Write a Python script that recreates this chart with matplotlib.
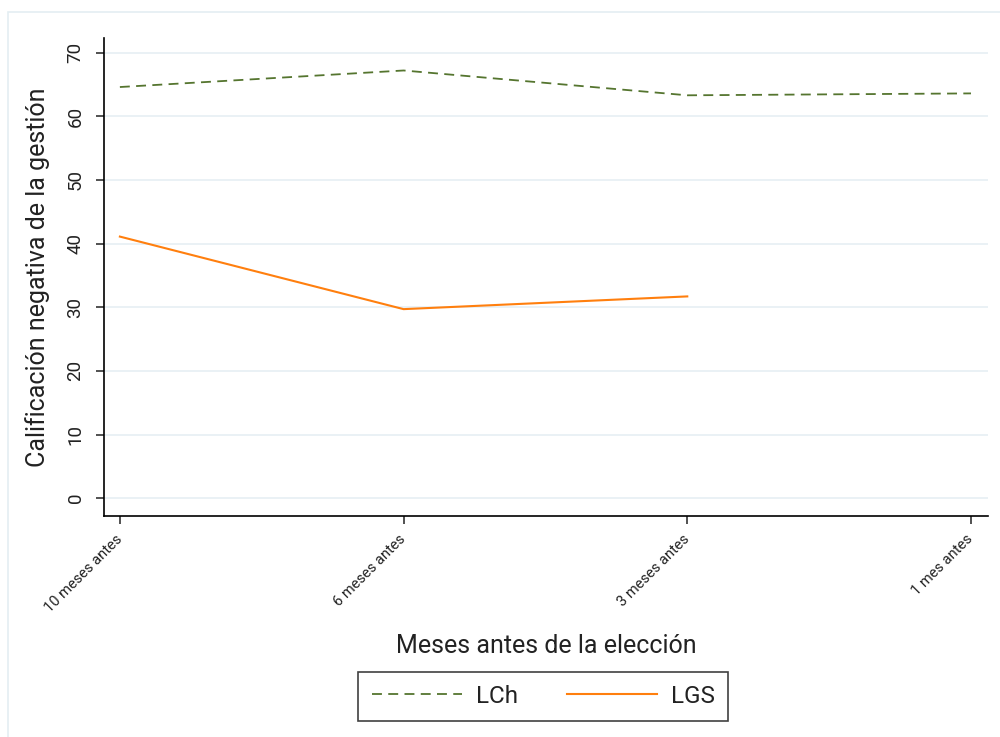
import matplotlib
import matplotlib.pyplot as plt
from matplotlib.patches import Rectangle

matplotlib.use("Agg")

plt.rcParams["font.family"] = ["Roboto", "DejaVu Sans"]

periods = ["10 meses antes", "6 meses antes", "3 meses antes", "1 mes antes"]
lch = [64.6, 67.2, 63.3, 63.6]
lgs = [41.1, 29.7, 31.7]
yticks = [0, 10, 20, 30, 40, 50, 60, 70]

GRID = "#e8f0f4"
INK = "#222222"


def makePlot(filepath):
    fig = plt.figure(figsize=(10, 7.37), dpi=100)
    fig.patches.append(
        Rectangle((0.008, -0.01), 1.1, 0.994, transform=fig.transFigure,
                  fill=False, edgecolor="#e4eef2", linewidth=1.2)
    )
    ax = fig.add_axes([0.104, 0.2999, 0.884, 0.6485])

    x = list(range(1, len(periods) + 1))
    ax.plot(x, lch, color="#55752f", linestyle=(0, (5.5, 3.5)), linewidth=1.3, label="LCh")
    ax.plot(x[: len(lgs)], lgs, color="#ff7f0e", linewidth=1.5, label="LGS")

    ax.set_xlim(0.944, 4.06)
    ax.set_ylim(-2.8, 72.3)
    ax.set_yticks(yticks)
    ax.set_yticklabels([str(v) for v in yticks], rotation=90, va="center", fontsize=13.5)
    ax.set_xticks(x)
    ax.set_xticklabels(periods, rotation=45, ha="right", va="center",
                       rotation_mode="anchor", fontsize=10.5)

    ax.grid(axis="y", color=GRID, linewidth=1.3)
    ax.set_axisbelow(True)
    for side in ["top", "right"]:
        ax.spines[side].set_visible(False)
    ax.spines["left"].set_linewidth(1.2)
    ax.spines["bottom"].set_linewidth(1.2)
    ax.tick_params(length=6, width=1.1, colors=INK)
    ax.tick_params(axis="y", pad=8)
    ax.tick_params(axis="x", pad=9)

    ax.set_ylabel("Calificación negativa de la gestión", fontsize=18, labelpad=12, color=INK)
    ax.set_xlabel("Meses antes de la elección", fontsize=18, labelpad=14, color=INK)

    leg = ax.legend(
        loc="upper center", bbox_to_anchor=(0.497, -0.30), ncol=2, fontsize=17.5,
        frameon=True, fancybox=False, edgecolor="#111111", handlelength=3.7,
        columnspacing=2.0, borderpad=0.55, handletextpad=0.6,
    )
    leg.get_frame().set_linewidth(1.2)
    for t in leg.get_texts():
        t.set_color(INK)

    fig.savefig(filepath)


makePlot("out.png")
